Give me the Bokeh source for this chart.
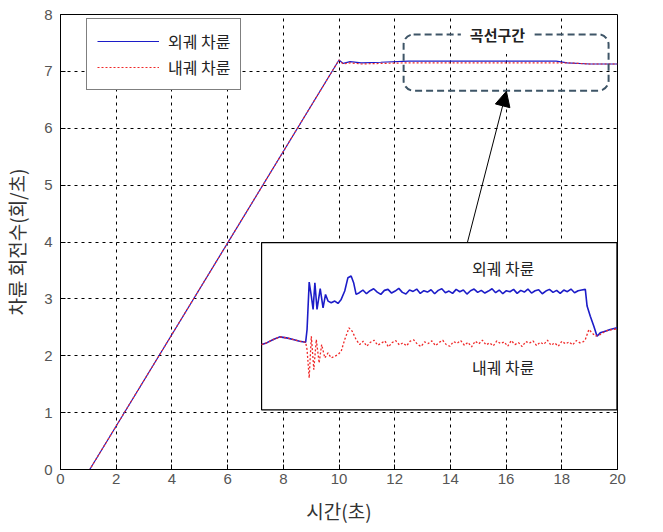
import numpy as np
from bokeh.plotting import figure
from bokeh.models import (Legend, LegendItem, BoxAnnotation, Label, Arrow, NormalHead,
                          FixedTicker, Range1d)
from bokeh.embed import file_html
from bokeh.resources import INLINE

# ---------------- main data ----------------
time_s = [0, 1.05, 10.0, 10.15, 10.4, 10.8, 11.5, 12.5, 14, 16, 17.8, 18.2, 19, 20]
outer_rps = [0, 0, 7.20, 7.14, 7.17, 7.15, 7.16, 7.18, 7.18, 7.18, 7.18, 7.15, 7.13, 7.13]
inner_rps = [0, 0, 7.20, 7.13, 7.15, 7.13, 7.14, 7.15, 7.15, 7.15, 7.15, 7.15, 7.13, 7.13]

x_ticks = [0, 2, 4, 6, 8, 10, 12, 14, 16, 18, 20]
y_ticks = [0, 1, 2, 3, 4, 5, 6, 7, 8]

# ---------------- inset (zoomed) data, inset units: x 0..10, y 0..5 ----------------
outer_head_x = [0, 0.14, 0.33, 0.51, 0.70, 0.89, 1.07, 1.24, 1.28, 1.34, 1.40, 1.45, 1.50, 1.56,
                1.65, 1.73, 1.80, 1.87, 1.96, 2.06, 2.15, 2.24, 2.34, 2.43, 2.52, 2.59, 2.66]
outer_head_y = [1.95, 2.00, 2.10, 2.18, 2.15, 2.10, 2.05, 2.02, 2.40, 3.82, 3.40, 3.00, 3.80, 3.00,
                3.62, 3.05, 3.45, 3.25, 3.20, 3.25, 3.18, 3.30, 3.55, 3.95, 4.00, 3.80, 3.45]
outer_noise = [3.50, 3.58, 3.47, 3.56, 3.62, 3.52, 3.45, 3.57, 3.60, 3.49, 3.55, 3.63, 3.51, 3.46,
               3.58, 3.54, 3.61, 3.48, 3.56, 3.52, 3.59, 3.47, 3.57, 3.62, 3.50, 3.55, 3.48, 3.60,
               3.53, 3.58, 3.46, 3.56, 3.61, 3.51, 3.57, 3.49, 3.55, 3.62, 3.50, 3.58, 3.47, 3.56,
               3.53, 3.60, 3.48, 3.57, 3.52, 3.61, 3.49, 3.56, 3.59, 3.47, 3.55, 3.60, 3.51, 3.57,
               3.48, 3.58, 3.53, 3.61, 3.50, 3.56, 3.58, 3.60]
outer_tail_x = [9.16, 9.25, 9.35, 9.44, 9.53, 9.67, 9.81, 10.0]
outer_tail_y = [3.10, 2.80, 2.50, 2.20, 2.30, 2.35, 2.40, 2.45]

inner_head_x = [0, 0.14, 0.33, 0.51, 0.70, 0.89, 1.07, 1.24, 1.28, 1.34, 1.40, 1.47, 1.54, 1.62,
                1.69, 1.78, 1.87, 1.96, 2.06, 2.15, 2.24, 2.34, 2.46, 2.55, 2.66, 2.76]
inner_head_y = [1.95, 2.00, 2.10, 2.18, 2.15, 2.10, 2.05, 2.02, 1.80, 0.95, 2.20, 1.20, 2.10, 1.40,
                1.95, 1.55, 1.70, 1.55, 1.60, 1.65, 1.75, 2.10, 2.45, 2.35, 2.10, 1.95]
inner_noise = [2.05, 1.90, 2.02, 2.08, 1.93, 1.99, 2.06, 1.88, 2.01, 2.07, 1.94, 2.00, 1.91, 2.05,
               2.09, 1.96, 1.89, 2.03, 1.98, 2.06, 1.92, 2.01, 2.08, 1.95, 1.90, 2.04, 1.99, 2.07,
               1.93, 2.02, 1.88, 2.05, 1.97, 2.08, 1.94, 2.00, 1.91, 2.06, 1.98, 2.03, 1.90, 2.07,
               1.95, 2.01, 1.89, 2.04, 1.99, 2.06, 1.92, 2.02, 1.96, 2.08, 1.93, 2.00, 1.90, 2.05,
               1.97, 2.03, 1.94, 2.07, 2.00, 2.04]
inner_tail_x = [9.11, 9.21, 9.30, 9.39, 9.53, 9.67, 9.86, 10.0]
inner_tail_y = [2.10, 2.40, 2.30, 2.20, 2.25, 2.35, 2.40, 2.42]

# sampling times of the noisy steady part (uniform sampling)
outer_noise_x = list(np.linspace(2.75, 9.11, len(outer_noise)))
inner_noise_x = list(np.linspace(2.86, 9.06, len(inner_noise)))

ox = np.array(outer_head_x + outer_noise_x + outer_tail_x)
oy = np.array(outer_head_y + outer_noise + outer_tail_y)
ix = np.array(inner_head_x + inner_noise_x + inner_tail_x)
iy = np.array(inner_head_y + inner_noise + inner_tail_y)

# inset placement inside main data coords
IX0, IX1, IY0, IY1 = 7.22, 19.98, 1.05, 3.99
def mapx(v):
    return IX0 + v * (IX1 - IX0) / 10.0
def mapy(v):
    return IY0 + v * (IY1 - IY0) / 5.0

FONT_KR = "Noto Sans CJK KR"
BLUE = "#1c1cc8"
RED = "#f02828"

p = figure(frame_width=557, frame_height=455, output_backend="svg", toolbar_location=None,
           x_range=Range1d(0, 20), y_range=Range1d(0, 8),
           min_border_left=56, min_border_right=34, min_border_top=14, min_border_bottom=47)
p.background_fill_color = "white"
p.border_fill_color = "white"
p.outline_line_color = "black"
p.outline_line_width = 1

for ax in (p.xaxis[0], p.yaxis[0]):
    ax.major_tick_in = 5
    ax.major_tick_out = 0
    ax.minor_tick_in = 0
    ax.minor_tick_out = 0
    ax.major_label_text_font = "Liberation Sans"
    ax.major_label_text_font_size = "15px"
    ax.major_label_text_color = "#555555"
    ax.axis_label_text_font = FONT_KR
    ax.axis_label_text_font_size = "19px"
    ax.axis_label_text_font_style = "normal"
    ax.axis_label_text_color = "#333333"
    ax.axis_line_color = "black"
p.xaxis[0].ticker = FixedTicker(ticks=x_ticks)
p.yaxis[0].ticker = FixedTicker(ticks=y_ticks)
p.xaxis[0].axis_label = "시간(초)"
p.yaxis[0].axis_label = "차륜 회전수(회/초)"
p.xaxis[0].major_label_standoff = 4
p.yaxis[0].major_label_standoff = 8
p.xaxis[0].axis_label_standoff = 10
p.yaxis[0].axis_label_standoff = 11

p.grid.grid_line_color = "black"
p.grid.grid_line_dash = "3 4"
p.grid.grid_line_width = 1
p.xgrid.ticker = FixedTicker(ticks=x_ticks)
p.ygrid.ticker = FixedTicker(ticks=y_ticks)

r_out = p.line(time_s, outer_rps, line_color=BLUE, line_width=1.2)
r_in = p.line(time_s, inner_rps, line_color=RED, line_width=1.2, line_dash="2 2")

# inset panel
p.quad(left=[IX0], right=[IX1], bottom=[IY0], top=[IY1], fill_color="white",
       line_color="black", line_width=1.2)
p.line(mapx(ox), mapy(oy), line_color=BLUE, line_width=1.6)
p.line(mapx(ix), mapy(iy), line_color=RED, line_width=1.3, line_dash="2 2")
p.add_layout(Label(x=mapx(6.8), y=mapy(4.25), text="외궤 차륜", text_font=FONT_KR,
                   text_font_size="16px", text_color="#222222", text_align="center",
                   text_baseline="middle"))
p.add_layout(Label(x=mapx(6.8), y=mapy(1.29), text="내궤 차륜", text_font=FONT_KR,
                   text_font_size="16px", text_color="#222222", text_align="center",
                   text_baseline="middle"))

# curve section highlight
box = BoxAnnotation(left=12.32, right=19.68, bottom=6.66, top=7.65, fill_alpha=0,
                    line_color="#3e5567", line_alpha=1, line_width=2, line_dash="7 4",
                    border_radius=10)
p.add_layout(box)
p.add_layout(Label(x=15.69, y=7.65, text="곡선구간", text_font=FONT_KR, text_font_size="15px",
                   text_font_style="bold", text_color="#222222", text_align="center",
                   text_baseline="middle", background_fill_color="white", padding=9))

p.add_layout(Arrow(x_start=14.61, y_start=3.99, x_end=16.01, y_end=6.65, line_width=1,
                   line_color="black",
                   end=NormalHead(size=15, fill_color="black", line_color="black")))

legend = Legend(items=[LegendItem(label="외궤 차륜", renderers=[r_out]),
                       LegendItem(label="내궤 차륜", renderers=[r_in])],
                location=(26, 379))
legend.label_text_font = FONT_KR
legend.label_text_font_size = "16px"
legend.label_text_color = "#222222"
legend.glyph_width = 62
legend.glyph_height = 20
legend.label_height = 20
legend.spacing = 2
legend.padding = 10
legend.margin = 0
legend.label_standoff = 9
legend.border_line_color = "black"
legend.border_line_width = 1
legend.background_fill_alpha = 1
p.add_layout(legend)

open("out.html", "w").write(file_html(p, INLINE))
